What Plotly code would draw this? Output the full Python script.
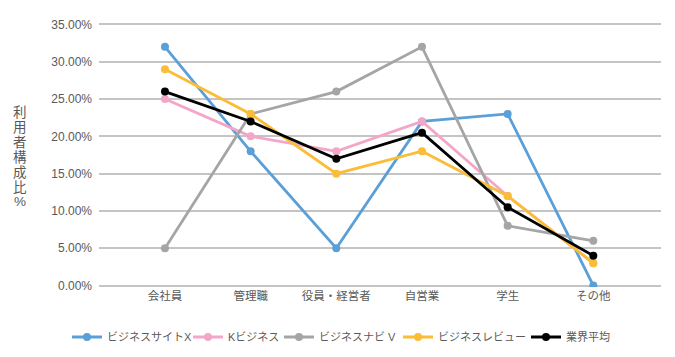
import plotly.graph_objects as go

categories = ["会社員", "管理職", "役員・経営者", "自営業", "学生", "その他"]
series_names = ["ビジネスサイトX", "Kビジネス", "ビジネスナビ V", "ビジネスレビュー", "業界平均"]
site_x = [32, 18, 5, 22, 23, 0]
k_biz = [25, 20, 18, 22, 12, 3]
navi_v = [5, 23, 26, 32, 8, 6]
review = [29, 23, 15, 18, 12, 3]
average = [26, 22, 17, 20.5, 10.5, 4]
colors = ["#5B9FD8", "#F4A6C8", "#A5A5A5", "#FBBC36", "#000000"]
y_ticks = [0, 5, 10, 15, 20, 25, 30, 35]
y_title = "利用者構成比%"
legend_left_px = [67, 188, 279, 398, 526]  # left edge of each legend entry

FONT = "Liberation Sans, Noto Sans CJK JP, sans-serif"
W, H = 667, 349  # page body adds an 8px offset
T, B = 15, 70
fig = go.Figure()
legend_ids = ["legend", "legend2", "legend3", "legend4", "legend5"]
for name, vals, col, lid in zip(series_names, [site_x, k_biz, navi_v, review, average], colors, legend_ids):
    fig.add_trace(go.Scatter(
        x=list(range(len(categories))), y=vals, name=name, mode="lines+markers",
        line=dict(color=col, width=2.8), marker=dict(color=col, size=8), legend=lid,
    ))

layout_legends = {}
for lid, lx in zip(legend_ids, legend_left_px):
    layout_legends[lid] = dict(orientation="h", xref="container", yref="container",
                               x=(lx - 8) / W, xanchor="left", y=1 - (337 - 8) / H,
                               yanchor="middle", font=dict(size=11, color="#595959"),
                               itemwidth=30, bgcolor="rgba(0,0,0,0)")

fig.update_layout(
    width=W, height=H,
    margin=dict(l=91, r=14, t=T, b=B, autoexpand=False),
    paper_bgcolor="white", plot_bgcolor="white",
    font=dict(family=FONT, color="#595959", size=12),
    showlegend=True,
    xaxis=dict(range=[-0.77, 5.79], tickmode="array", tickvals=list(range(len(categories))),
               ticktext=categories, showgrid=False, zeroline=False, showline=False,
               tickfont=dict(size=11.5, color="#595959")),
    yaxis=dict(range=[-0.2, 35.2], tickmode="array", tickvals=y_ticks,
               ticktext=[f"{v:.2f}%" for v in y_ticks], showgrid=True, gridcolor="#C4C4C4",
               gridwidth=1.5, zeroline=False, showline=False, ticklabelstandoff=6,
               tickfont=dict(size=12, color="#595959")),
    **layout_legends,
)
plot_h = H - T - B
for i, ch in enumerate(y_title):
    ypx = 105 + i * 14.8
    fig.add_annotation(text=ch, xref="paper", yref="paper",
                       x=-0.141, y=1 - (ypx - T) / plot_h, xanchor="center", yanchor="middle",
                       showarrow=False, font=dict(size=13.5, color="#595959", family=FONT))
fig.write_html("out.html")
